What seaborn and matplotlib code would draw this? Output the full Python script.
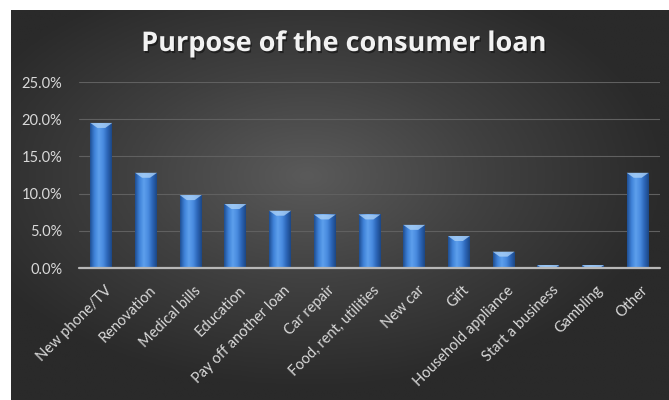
import numpy as np
import pandas as pd
import matplotlib
matplotlib.use("Agg")
import matplotlib.pyplot as plt
import seaborn as sns
from matplotlib.colors import LinearSegmentedColormap
from matplotlib.patches import Polygon
from matplotlib.transforms import ScaledTranslation
import matplotlib.patheffects as pe

categories = ["New phone/TV", "Renovation", "Medical bills", "Education",
              "Pay off another loan", "Car repair", "Food, rent, utilities",
              "New car", "Gift", "Household appliance", "Start a business",
              "Gambling", "Other"]
shares = [19.5, 12.8, 9.8, 8.6, 7.7, 7.2, 7.2, 5.8, 4.3, 2.2, 0.4, 0.4, 12.8]
y_ticks = [0, 5, 10, 15, 20, 25]
title = "Purpose of the consumer loan"

df = pd.DataFrame({"purpose": categories, "share": shares})

sns.set_theme(style="dark")
plt.rcParams['font.family'] = ['Lato', 'DejaVu Sans']

fig = plt.figure(figsize=(6.69, 4.0), dpi=100)
fig.patch.set_facecolor("white")

# radial dark background
bg = fig.add_axes([11/669, 0, 1 - 11/669, 390/400], zorder=0)
ny, nx = 300, 500
yy, xx = np.mgrid[-1:1:ny*1j, -1:1:nx*1j]
r = np.sqrt(((xx + 0.1) / 1.1) ** 2 + ((yy + 0.15) / 1.1) ** 2)
r = np.clip(r, 0, 1)
bg_cmap = LinearSegmentedColormap.from_list("bg", ["#5a5a5a", "#404040", "#2a2a2a"])
bg.imshow(r, cmap=bg_cmap, aspect="auto", extent=[0, 1, 0, 1], vmin=0, vmax=1)
bg.set_axis_off()

ax = fig.add_axes([79/669, 1 - 268/400, 581/669, 186/400], zorder=1)
ax.set_facecolor("none")
sns.barplot(data=df, x="purpose", y="share", color="#3a7bd5", width=0.49,
            saturation=1, linewidth=0, edgecolor="none", ax=ax, zorder=3)

bar_cmap = LinearSegmentedColormap.from_list(
    "bar", ["#1f4f94", "#3f82d8", "#5d9fec", "#4a8ce0", "#2c66b8", "#1c4785"])
grad = np.linspace(0, 1, 64).reshape(1, -1)
px_per_unit = 186 / 25.0
for p in list(ax.patches):
    x0, w, h = p.get_x(), p.get_width(), p.get_height()
    im = ax.imshow(grad, cmap=bar_cmap, aspect="auto",
                   extent=[x0, x0 + w, 0, h], zorder=4)
    im.set_clip_path(p)
    cap = min(5 / px_per_unit, h)
    inset = w * 0.32 * cap / (5 / px_per_unit)
    poly = Polygon([[x0, h], [x0 + w, h], [x0 + w - inset, h - cap],
                    [x0 + inset, h - cap]], closed=True,
                   facecolor="#a9d0f7", edgecolor="none", alpha=0.8, zorder=5)
    ax.add_patch(poly)

ax.set_xlim(-0.5, len(categories) - 0.5)
ax.set_ylim(0, 25)
ax.set_yticks(y_ticks)
ax.set_yticklabels([f"{v:.1f}%" for v in y_ticks])
ax.yaxis.grid(True, color="#606060", lw=0.8)
ax.xaxis.grid(False)
ax.set_axisbelow(True)
for s in ax.spines.values():
    s.set_visible(False)
ax.axhline(0, color="#b8b8b8", lw=1.6, zorder=7, clip_on=False)
ax.set_xlabel("")
ax.set_ylabel("")
ax.tick_params(axis="y", colors="#d9d9d9", labelsize=10.5, length=0, pad=12)
ax.tick_params(axis="x", colors="#d9d9d9", labelsize=10.5, length=0, pad=11)
shift = ScaledTranslation(3 / 100, 0, fig.dpi_scale_trans)
for lbl in ax.get_xticklabels():
    lbl.set_rotation(45)
    lbl.set_ha("right")
    lbl.set_va("top")
    lbl.set_rotation_mode("anchor")
    lbl.set_transform(lbl.get_transform() + shift)

fig.text(344/669, 1 - 44/400, title, ha="center", va="center",
         fontsize=19.5, fontweight="bold", color="#f2f2f2", family="Open Sans",
         path_effects=[pe.withSimplePatchShadow(offset=(1, -1.5), shadow_rgbFace="#111111", alpha=0.6)])

fig.savefig("out.png", dpi=100)
